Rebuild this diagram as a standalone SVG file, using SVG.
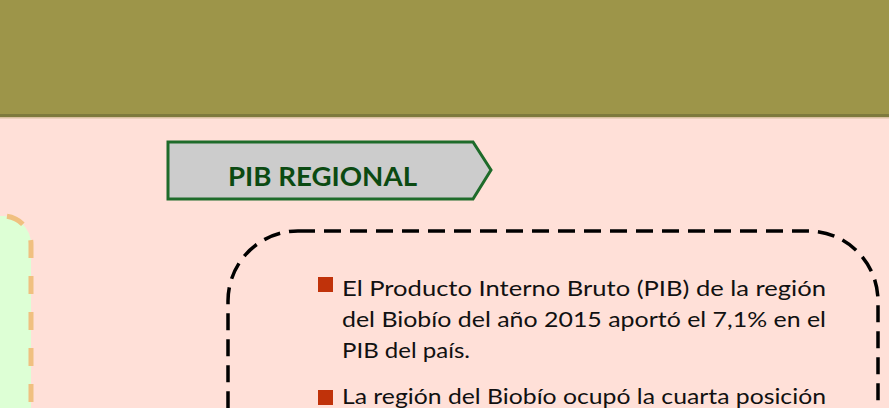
<svg xmlns="http://www.w3.org/2000/svg" width="889" height="408" viewBox="0 0 889 408">
<style>
.body{font-family:Lato,"Open Sans","Liberation Sans",sans-serif;font-size:22px;fill:#111111}
.bullet{fill:#C0320A}
</style>
<rect x="0" y="0" width="889" height="408" fill="#FFE0D8"/>
<g id="header">
<rect x="0" y="0" width="889" height="114" fill="#9D9549"/>
<rect x="0" y="114" width="889" height="3" fill="#7E7A3D"/>
<rect x="0" y="117" width="889" height="1.5" fill="#D9BFA0"/>
</g>
<g id="left-panel">
<path d="M -40 216 L 3 216 A 28 28 0 0 1 31 244 L 31 420 L -40 420 Z" fill="#DDFFD5"/>
<path d="M 3 216 A 28 28 0 0 1 31 244 L 31 420" fill="none" stroke="#F0C080" stroke-width="5" stroke-dasharray="18 18" stroke-dashoffset="-4"/>
</g>
<g id="pib-label">
<polygon points="168,142 473,142 491,170 473,199 168,199" fill="#CCCCCC" stroke="#1E6B2A" stroke-width="3"/>
<text x="228" y="186" font-family="Lato,'Open Sans','Liberation Sans',sans-serif" font-size="26" font-weight="bold" fill="#0B4A12" textLength="189" lengthAdjust="spacingAndGlyphs">PIB REGIONAL</text>
</g>
<g id="content-box">
<rect x="228" y="231" width="650" height="260" rx="70" ry="70" fill="none" stroke="#000000" stroke-width="3.5" stroke-dasharray="17 9"/>
<rect class="bullet" x="318" y="277" width="15" height="15"/>
<text class="body" x="342" y="296" textLength="484" lengthAdjust="spacingAndGlyphs">El Producto Interno Bruto (PIB) de la región</text>
<text class="body" x="342" y="327" textLength="484" lengthAdjust="spacingAndGlyphs">del Biobío del año 2015 aportó el 7,1% en el</text>
<text class="body" x="342" y="358" textLength="128" lengthAdjust="spacingAndGlyphs">PIB del país.</text>
<rect class="bullet" x="318" y="390" width="15" height="15"/>
<text class="body" x="342" y="404" textLength="484" lengthAdjust="spacingAndGlyphs">La región del Biobío ocupó la cuarta posición</text>
</g>
</svg>
